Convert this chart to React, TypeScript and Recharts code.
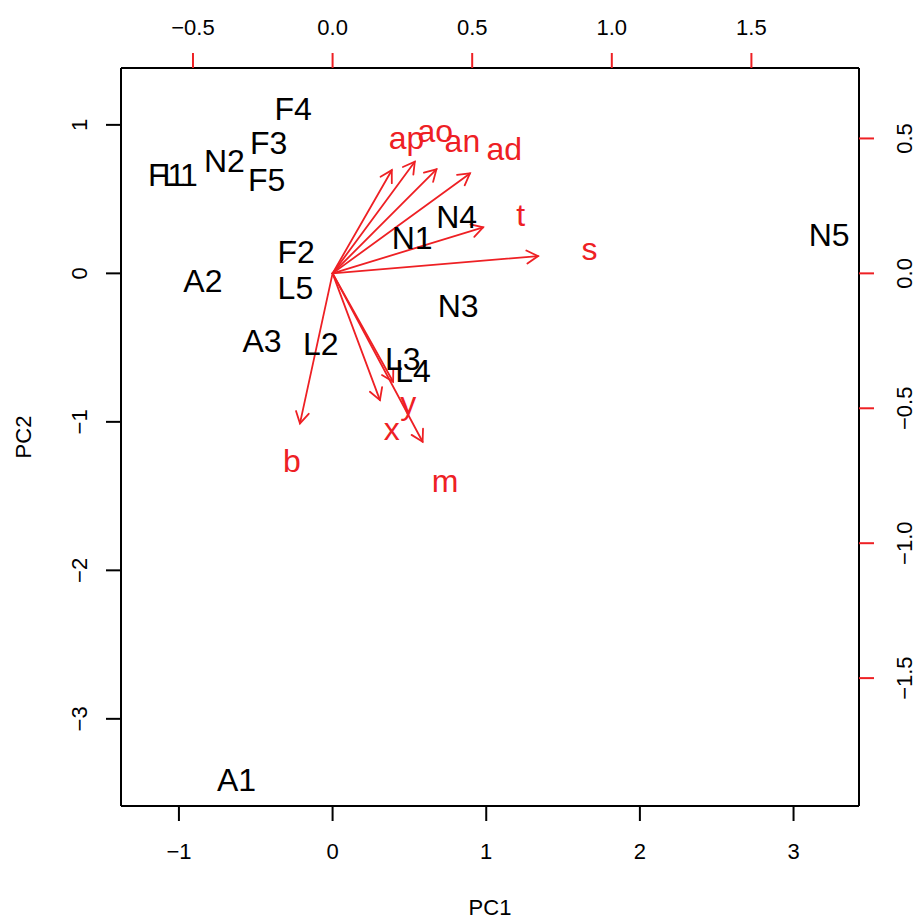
import { ScatterChart, Scatter, XAxis, YAxis, ReferenceLine } from 'recharts';

// observations (scores) on PC1 / PC2
const obsNames = ['A1', 'A2', 'A3', 'F1', 'F2', 'F3', 'F4', 'F5', 'L1', 'L2', 'L3', 'L4', 'L5', 'N1', 'N2', 'N3', 'N4', 'N5'];
const obsPC1 = [-0.625, -0.844, -0.459, -1.08, -0.237, -0.416, -0.256, -0.429, -0.993, -0.077, 0.457, 0.524, -0.242, 0.518, -0.704, 0.817, 0.807, 3.232];
const obsPC2 = [-3.407, -0.045, -0.449, 0.667, 0.15, 0.884, 1.111, 0.632, 0.667, -0.471, -0.572, -0.653, -0.097, 0.244, 0.76, -0.213, 0.385, 0.265];

// variables (loadings), read on the top / right axes
const varNames = ['ap', 'ao', 'an', 'ad', 't', 's', 'b', 'x', 'y', 'm'];
const varPC1 = [0.265, 0.368, 0.465, 0.615, 0.674, 0.92, -0.146, 0.212, 0.271, 0.403];
const varPC2 = [0.478, 0.517, 0.482, 0.463, 0.213, 0.08, -0.695, -0.587, -0.502, -0.78];

const pcTicksX = [-1, 0, 1, 2, 3];
const pcTicksY = [-3, -2, -1, 0, 1];
const loadTicksX = [-0.5, 0, 0.5, 1, 1.5];
const loadTicksY = [-1.5, -1, -0.5, 0, 0.5];

const W = 917;
const H = 916;
const LEFT = 121;
const RIGHT = 859;
const TOP = 68;
const BOTTOM = 806;

const pcXDomain = [-1.377, 3.426];
const pcYDomain = [-3.587, 1.383];
const ratio = 0.5503; // biplot scale between scores and loadings
const loadXDomain = pcXDomain.map((v) => v * ratio);
const loadYDomain = pcYDomain.map((v) => v * ratio);
const ARROW_SHRINK = 0.8; // biplot draws arrows to 0.8 of the label position

const RED = '#EE2024';
const FONT = '"Liberation Sans", Arial, Helvetica, sans-serif';
const TICK_SIZE = 22;
const LABEL_SIZE = 32;

const obsData = obsNames.map((name, i) => ({ name, x: obsPC1[i], y: obsPC2[i] }));
const varData = varNames.map((name, i) => ({ name, x: varPC1[i], y: varPC2[i] }));

const fmt = (v: number, digits: number) => (v < 0 ? '\u2212' : '') + Math.abs(v).toFixed(digits);

// R centres text on its ink box, so shift the baseline by glyph extents
const baselineShift = (s: string, size: number) => {
  const top = /[A-Z0-9bdfhkl]/.test(s) ? 0.72 : /t/.test(s) ? 0.66 : 0.52;
  const bottom = /[gjpqy]/.test(s) ? -0.21 : 0;
  return ((top + bottom) / 2) * size;
};

const ObsLabel = (p: any) => (
  <text x={p.cx} y={p.cy + baselineShift(p.payload.name, LABEL_SIZE)} textAnchor='middle' fontSize={LABEL_SIZE} fontFamily={FONT} fill='#000'>
    {p.payload.name}
  </text>
);

const VarLabel = (p: any) => (
  <text x={p.cx} y={p.cy + baselineShift(p.payload.name, LABEL_SIZE)} textAnchor='middle' fontSize={LABEL_SIZE} fontFamily={FONT} fill={RED}>
    {p.payload.name}
  </text>
);

const Arrow = (p: any) => {
  const { x1, y1, x2, y2 } = p;
  const a = Math.atan2(y2 - y1, x2 - x1);
  const len = 13;
  const h1x = x2 - len * Math.cos(a - Math.PI / 6);
  const h1y = y2 - len * Math.sin(a - Math.PI / 6);
  const h2x = x2 - len * Math.cos(a + Math.PI / 6);
  const h2y = y2 - len * Math.sin(a + Math.PI / 6);
  return (
    <g stroke={RED} strokeWidth={1.8} fill='none' strokeLinecap='round'>
      <line x1={x1} y1={y1} x2={x2} y2={y2} />
      <polyline points={`${h1x},${h1y} ${x2},${y2} ${h2x},${h2y}`} />
    </g>
  );
};

const textProps = { fontSize: TICK_SIZE, fontFamily: FONT, fill: '#000' };

const BottomTick = (p: any) => (
  <text x={p.x} y={p.y + 38} textAnchor='middle' {...textProps}>
    {fmt(p.payload.value, 0)}
  </text>
);

const TopTick = (p: any) => (
  <text x={p.x} y={p.y - 18} textAnchor='middle' {...textProps}>
    {fmt(p.payload.value, 1)}
  </text>
);

const LeftTick = (p: any) => {
  const bx = p.x - 19;
  return (
    <text x={bx} y={p.y} transform={`rotate(-90, ${bx}, ${p.y})`} textAnchor='middle' {...textProps}>
      {fmt(p.payload.value, 0)}
    </text>
  );
};

const RightTick = (p: any) => {
  const bx = p.x + 38;
  return (
    <text x={bx} y={p.y} transform={`rotate(-90, ${bx}, ${p.y})`} textAnchor='middle' {...textProps}>
      {fmt(p.payload.value, 1)}
    </text>
  );
};

const boxLine = { stroke: '#000', strokeWidth: 2 };

export default function App() {
  return (
    <div style={{ position: 'absolute', left: 0, top: 0, background: '#fff' }}>
      <ScatterChart width={W} height={H} margin={{ top: 0, right: 0, bottom: 0, left: 0 }}>
        <XAxis
          xAxisId='pc'
          dataKey='x'
          type='number'
          orientation='bottom'
          domain={pcXDomain}
          ticks={pcTicksX}
          interval={0}
          allowDataOverflow
          height={H - BOTTOM}
          tickSize={15}
          tickMargin={0}
          axisLine={boxLine}
          tickLine={boxLine}
          tick={BottomTick}
          label={{
            content: () => (
              <text x={(LEFT + RIGHT) / 2} y={915} textAnchor='middle' {...textProps}>
                PC1
              </text>
            )
          }}
        />
        <XAxis
          xAxisId='ld'
          dataKey='x'
          type='number'
          orientation='top'
          domain={loadXDomain}
          ticks={loadTicksX}
          interval={0}
          allowDataOverflow
          height={TOP}
          tickSize={15}
          tickMargin={0}
          axisLine={boxLine}
          tickLine={{ stroke: RED, strokeWidth: 2 }}
          tick={TopTick}
        />
        <YAxis
          yAxisId='pc'
          dataKey='y'
          type='number'
          orientation='left'
          domain={pcYDomain}
          ticks={pcTicksY}
          interval={0}
          allowDataOverflow
          width={LEFT}
          tickSize={15}
          tickMargin={0}
          axisLine={boxLine}
          tickLine={boxLine}
          tick={LeftTick}
          label={{
            content: () => (
              <text x={31} y={(TOP + BOTTOM) / 2} transform={`rotate(-90, 31, ${(TOP + BOTTOM) / 2})`} textAnchor='middle' {...textProps}>
                PC2
              </text>
            )
          }}
        />
        <YAxis
          yAxisId='ld'
          dataKey='y'
          type='number'
          orientation='right'
          domain={loadYDomain}
          ticks={loadTicksY}
          interval={0}
          allowDataOverflow
          width={W - RIGHT}
          tickSize={15}
          tickMargin={0}
          axisLine={boxLine}
          tickLine={{ stroke: RED, strokeWidth: 2 }}
          tick={RightTick}
        />
        {varData.map((d) => (
          <ReferenceLine
            key={d.name}
            xAxisId='ld'
            yAxisId='ld'
            ifOverflow='visible'
            segment={[
              { x: 0, y: 0 },
              { x: d.x * ARROW_SHRINK, y: d.y * ARROW_SHRINK }
            ]}
            shape={Arrow}
          />
        ))}
        <Scatter xAxisId='pc' yAxisId='pc' data={obsData} shape={ObsLabel} isAnimationActive={false} />
        <Scatter xAxisId='ld' yAxisId='ld' data={varData} shape={VarLabel} isAnimationActive={false} />
      </ScatterChart>
    </div>
  );
}
